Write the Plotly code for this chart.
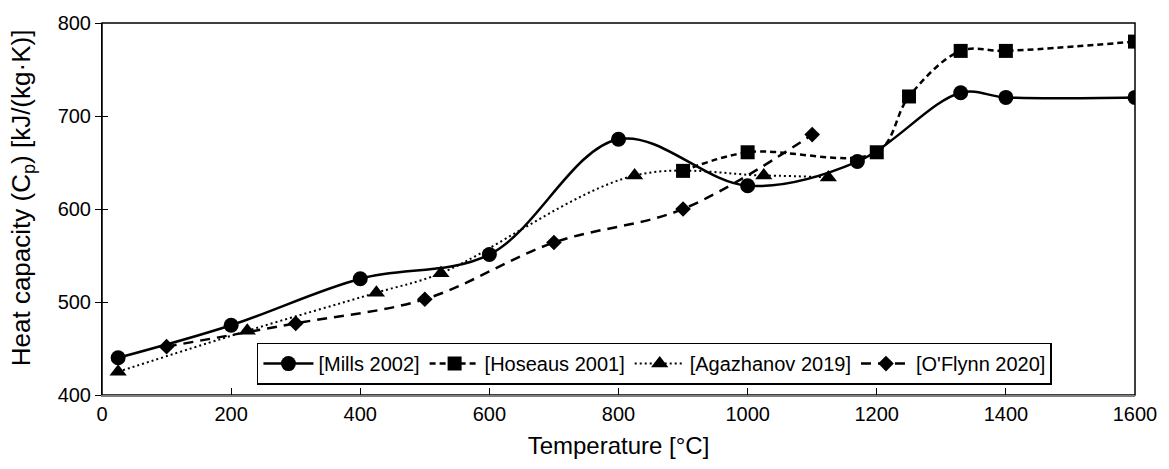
import plotly.graph_objects as go

# ---- data ----
mills_t = [25, 200, 400, 600, 800, 1000, 1170, 1330, 1400, 1600]
mills_cp = [440, 475, 525, 551, 675, 625, 651, 725, 720, 720]

hoseaus_t = [900, 1000, 1200, 1250, 1330, 1400, 1600]
hoseaus_cp = [641, 661, 661, 721, 770, 770, 780]

agaz_t = [25, 225, 425, 525, 825, 1025, 1125]
agaz_cp = [425, 469, 510, 531, 636, 636, 634]

oflynn_t = [100, 300, 500, 700, 900, 1100]
oflynn_cp = [452, 477, 503, 564, 600, 680]

x_ticks = [0, 200, 400, 600, 800, 1000, 1200, 1400, 1600]
y_ticks = [400, 500, 600, 700, 800]

FONT = "Liberation Sans, Arial, sans-serif"

fig = go.Figure()
fig.add_trace(go.Scatter(
    x=mills_t, y=mills_cp, name="[Mills 2002]", mode="lines+markers",
    line=dict(color="black", width=2.5, shape="spline", smoothing=1.0),
    marker=dict(symbol="circle", size=15, color="black")))
fig.add_trace(go.Scatter(
    x=hoseaus_t, y=hoseaus_cp, name="[Hoseaus 2001]", mode="lines+markers",
    line=dict(color="black", width=2.5, dash="6px,4px", shape="spline", smoothing=1.0),
    marker=dict(symbol="square", size=14, color="black")))
fig.add_trace(go.Scatter(
    x=agaz_t, y=agaz_cp, name="[Agazhanov 2019]", mode="lines+markers",
    line=dict(color="black", width=2, dash="2px,3px", shape="spline", smoothing=1.0),
    marker=dict(symbol="triangle-up", size=15, color="black")))
fig.add_trace(go.Scatter(
    x=oflynn_t, y=oflynn_cp, name="[O'Flynn 2020]", mode="lines+markers",
    line=dict(color="black", width=2.5, dash="10px,7px", shape="spline", smoothing=1.0),
    marker=dict(symbol="diamond", size=12, color="black")))

fig.update_layout(
    width=1169, height=469,
    margin=dict(l=102, r=26, t=18, b=74),
    paper_bgcolor="white", plot_bgcolor="white",
    font=dict(family=FONT, size=20, color="black"),
    showlegend=True,
    legend=dict(
        orientation="h", x=0.15, xanchor="left", y=0.028, yanchor="bottom",
        bgcolor="white", bordercolor="black", borderwidth=1.5,
        font=dict(family=FONT, size=20, color="black"),
        itemwidth=50, tracegroupgap=0,
    ),
    xaxis=dict(
        range=[0, 1600], tickvals=x_ticks, ticktext=[str(v) for v in x_ticks],
        ticks="inside", ticklen=7, tickcolor="black", tickwidth=1,
        showline=True, linecolor="#7f7f7f", linewidth=2,
        showgrid=False, zeroline=False,
        title=dict(text="Temperature [°C]", font=dict(size=24), standoff=13),
        tickfont=dict(size=20),
    ),
    yaxis=dict(
        range=[400, 800], tickvals=y_ticks,
        ticks="outside", ticklen=6, tickcolor="black", tickwidth=1,
        showline=True, linecolor="black", linewidth=1,
        showgrid=False, zeroline=False,
        tickfont=dict(size=20),
    ),
    yaxis2=dict(
        range=[400, 800], tickvals=y_ticks, overlaying="y", side="left",
        ticks="inside", ticklen=6, tickcolor="black", showticklabels=False,
        showline=False, showgrid=False, zeroline=False,
    ),
    shapes=[dict(type="rect", xref="paper", yref="paper", x0=0, x1=1, y0=0, y1=1,
                 line=dict(color="black", width=1.5), layer="below")],
    annotations=[dict(
        text="Heat capacity (C<sub>p</sub>) [kJ/(kg·K)]", textangle=-90,
        xref="paper", yref="paper", x=-(102 - 22) / 1041, y=(395 - 195) / 377,
        xanchor="center", yanchor="middle", showarrow=False,
        font=dict(family=FONT, size=26, color="black"))],
)
# invisible trace to activate yaxis2 ticks
fig.add_trace(go.Scatter(x=[0], y=[400], yaxis="y2", mode="markers",
                         marker=dict(opacity=0), showlegend=False, hoverinfo="skip"))

fig.write_html("out.html")
